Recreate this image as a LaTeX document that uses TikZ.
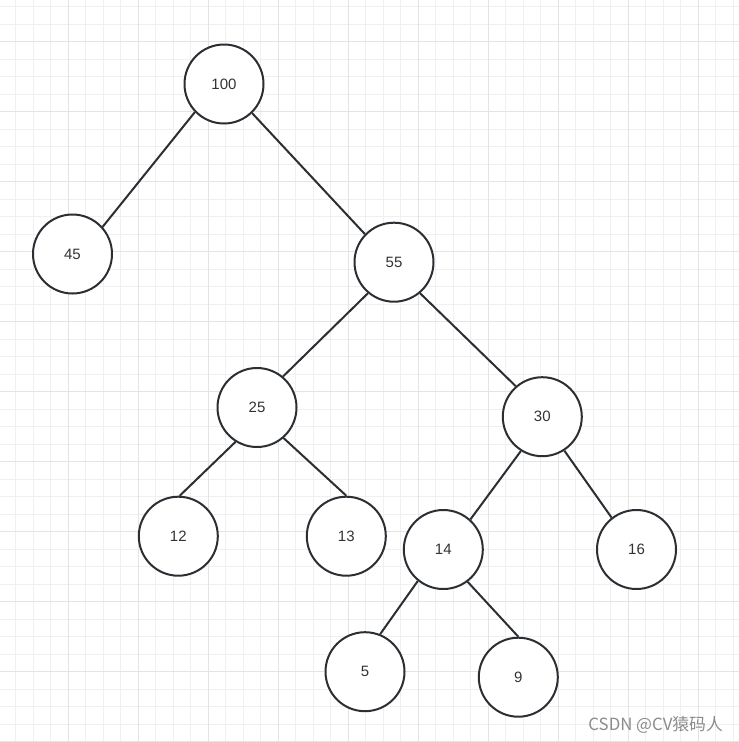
\documentclass[tikz,border=0pt]{standalone}
\usepackage{fontspec}
\setmainfont{Liberation Sans}
\newfontfamily\cjkfont{Noto Sans CJK SC}
\definecolor{gridminor}{HTML}{F0F0F0}
\definecolor{gridmajor}{HTML}{E4E4E4}
\definecolor{edgecol}{HTML}{2B2F33}
\definecolor{labelcol}{HTML}{333333}
\definecolor{markcol}{HTML}{8C8C8C}
\begin{document}
\begin{tikzpicture}[x=1pt,y=-1pt,
  treenode/.style={circle,draw=edgecol,line width=2pt,fill=white,minimum size=79pt,inner sep=0pt,
    text=labelcol,font=\fontsize{15}{17}\selectfont},
  treeedge/.style={draw=edgecol,line width=2pt}]
\useasboundingbox (0,0) rectangle (739,742);
\fill[white] (0,0) rectangle (739,742);
% grid
\foreach \i in {0,...,42} {
  \pgfmathsetmacro{\gx}{-2+17.5*\i}
  \draw[gridminor,line width=1pt] (\gx,0) -- (\gx,742);
}
\foreach \i in {0,...,42} {
  \pgfmathsetmacro{\gy}{6.7+17.5*\i}
  \draw[gridminor,line width=1pt] (0,\gy) -- (739,\gy);
}
\foreach \i in {0,...,10} {
  \pgfmathsetmacro{\gx}{-2+70*\i}
  \draw[gridmajor,line width=1pt] (\gx,0) -- (\gx,742);
}
\foreach \i in {0,...,10} {
  \pgfmathsetmacro{\gy}{41.7+70*\i}
  \draw[gridmajor,line width=1pt] (0,\gy) -- (739,\gy);
}
% nodes
\node[treenode] (n100) at (224,84) {100};
\node[treenode] (n45) at (72.5,254) {45};
\node[treenode] (n55) at (394,262.2) {55};
\node[treenode] (n25) at (257,407.5) {25};
\node[treenode] (n30) at (542.3,416.7) {30};
\node[treenode] (n12) at (178.3,536.2) {12};
\node[treenode] (n13) at (346.3,536.2) {13};
\node[treenode] (n14) at (443.3,549.5) {14};
\node[treenode] (n16) at (636.5,549.5) {16};
\node[treenode] (n5) at (365,671.7) {5};
\node[treenode] (n9) at (518.3,677.2) {9};
% edges
\draw[treeedge] (n100.224) -- (n45.42);
\draw[treeedge] (n100.314) -- (n55.136);
\draw[treeedge] (n55.230) -- (n25.50);
\draw[treeedge] (n55.310.6) -- (n30.131.6);
\draw[treeedge] (n25.238) -- (n12.88.6);
\draw[treeedge] (n25.311) -- (n13.90);
\draw[treeedge] (n30.238.5) -- (n14.48.5);
\draw[treeedge] (n30.303.5) -- (n16.128.5);
\draw[treeedge] (n14.231.5) -- (n5.68.7);
\draw[treeedge] (n14.307) -- (n9.90);
% watermark
\node[anchor=east,inner sep=0pt,text=markcol,font=\cjkfont\fontsize{16.8}{19}\selectfont] (mark) at (723,724.5) {CSDN @CV猿码人};
\end{tikzpicture}
\end{document}
